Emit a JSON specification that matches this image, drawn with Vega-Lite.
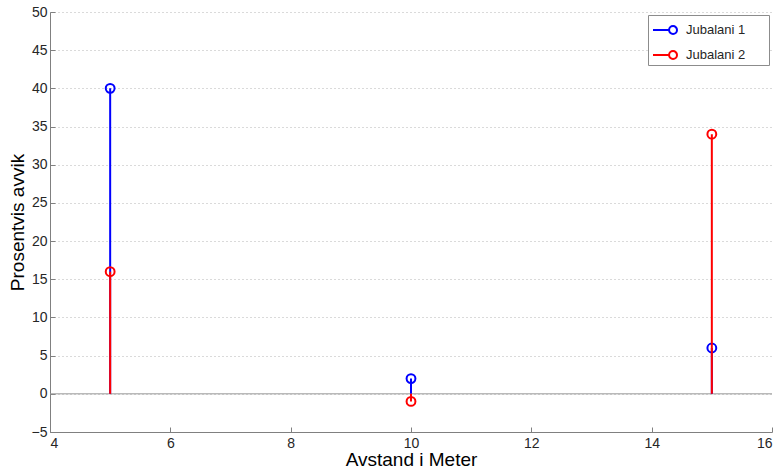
{
  "$schema": "https://vega.github.io/schema/vega-lite/v6.json",
  "width": 722,
  "height": 420,
  "autosize": {"type": "none"},
  "padding": {"left": 50, "top": 12, "right": 9, "bottom": 37},
  "background": "white",
  "config": {
    "view": {"stroke": null},
    "font": "Liberation Sans",
    "axis": {
      "labelFont": "Liberation Sans",
      "labelFontSize": 14,
      "labelColor": "#262626",
      "titleFont": "Liberation Sans",
      "titleFontSize": 19,
      "titleFontWeight": "normal",
      "titleColor": "#000000",
      "domainColor": "#808080",
      "tickColor": "#808080",
      "tickSize": -5,
      "gridColor": "#b4b4b4",
      "gridDash": [1, 3],
      "gridWidth": 1
    },
    "legend": {
      "labelFont": "Liberation Sans",
      "labelFontSize": 13,
      "labelColor": "#262626"
    }
  },
  "datasets": {
    "stem": [
      {"serie": "Jubalani 1", "avstand": 5, "avvik": 40},
      {"serie": "Jubalani 1", "avstand": 10, "avvik": 2},
      {"serie": "Jubalani 1", "avstand": 15, "avvik": 6},
      {"serie": "Jubalani 2", "avstand": 5, "avvik": 16},
      {"serie": "Jubalani 2", "avstand": 10, "avvik": -1},
      {"serie": "Jubalani 2", "avstand": 15, "avvik": 34}
    ],
    "grunnlinje": [{"nivaa": 0}]
  },
  "data": {"name": "stem"},
  "encoding": {
    "x": {
      "field": "avstand",
      "type": "quantitative",
      "scale": {"domain": [4, 16], "nice": false, "zero": false},
      "axis": {
        "values": [4, 6, 8, 10, 12, 14, 16],
        "title": "Avstand i Meter",
        "grid": false,
        "labelPadding": 9,
        "titlePadding": 0
      }
    },
    "y": {
      "field": "avvik",
      "type": "quantitative",
      "scale": {"domain": [-5, 50], "nice": false, "zero": false},
      "axis": {
        "values": [-5, 0, 5, 10, 15, 20, 25, 30, 35, 40, 45, 50],
        "title": "Prosentvis avvik",
        "grid": true,
        "labelPadding": 8,
        "titlePadding": 4
      }
    },
    "color": {
      "field": "serie",
      "type": "nominal",
      "scale": {"domain": ["Jubalani 1", "Jubalani 2"], "range": ["#0000ff", "#ff0000"]},
      "legend": {
        "title": null,
        "orient": "top-right",
        "offset": 3,
        "padding": 2,
        "fillColor": "white",
        "strokeColor": "#8c8c8c",
        "symbolType": "M-1,0L0.34,0M0.34,0A0.33,0.33,0,1,0,1,0A0.33,0.33,0,1,0,0.34,0",
        "symbolSize": 576,
        "symbolStrokeWidth": 2,
        "symbolFillColor": "transparent",
        "symbolOffset": 2,
        "labelOffset": 8,
        "rowPadding": 4,
        "labelExpr": "datum.label + '\u00a0\u00a0\u00a0\u00a0\u00a0\u00a0\u200b'"
      }
    }
  },
  "layer": [
    {
      "data": {"name": "grunnlinje"},
      "mark": {"type": "rule", "color": "#999999", "strokeWidth": 1},
      "encoding": {
        "x": null,
        "color": null,
        "y": {"field": "nivaa", "type": "quantitative"}
      }
    },
    {
      "transform": [{"filter": "datum.serie === 'Jubalani 1'"}],
      "mark": {"type": "rule", "strokeWidth": 2},
      "encoding": {"y2": {"datum": 0}}
    },
    {
      "transform": [{"filter": "datum.serie === 'Jubalani 1'"}],
      "mark": {"type": "point", "filled": false, "size": 78, "strokeWidth": 2, "opacity": 1}
    },
    {
      "transform": [{"filter": "datum.serie === 'Jubalani 2'"}],
      "mark": {"type": "rule", "strokeWidth": 2},
      "encoding": {"y2": {"datum": 0}}
    },
    {
      "transform": [{"filter": "datum.serie === 'Jubalani 2'"}],
      "mark": {"type": "point", "filled": false, "size": 78, "strokeWidth": 2, "opacity": 1}
    }
  ]
}
